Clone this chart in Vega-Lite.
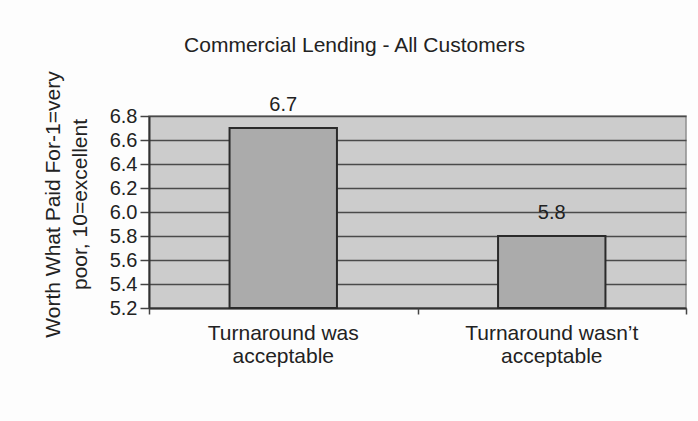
{
  "$schema": "https://vega.github.io/schema/vega-lite/v6.json",
  "width": 537,
  "height": 192,
  "autosize": {"type": "none"},
  "padding": {"left": 149, "top": 116, "right": 12, "bottom": 113},
  "background": "#fdfdfd",
  "config": {
    "font": "Liberation Sans",
    "view": {"fill": "#cccccc", "stroke": "#8f8f8f", "strokeWidth": 1.5}
  },
  "title": {
    "text": "Commercial Lending - All Customers",
    "fontSize": 21,
    "fontWeight": "normal",
    "color": "#222222",
    "anchor": "middle",
    "dx": -63,
    "baseline": "alphabetic",
    "offset": -2
  },
  "data": {
    "values": [
      {"category": "Turnaround was acceptable", "score": 6.7},
      {"category": "Turnaround wasn’t acceptable", "score": 5.8}
    ]
  },
  "encoding": {
    "y": {
      "field": "score",
      "type": "quantitative",
      "scale": {"domain": [5.2, 6.8], "nice": false, "zero": false},
      "axis": {
        "values": [5.2, 5.4, 5.6, 5.8, 6.0, 6.2, 6.4, 6.6, 6.8],
        "format": ".1f",
        "labelFontSize": 20,
        "labelColor": "#222222",
        "labelPadding": 3,
        "tickSize": 9,
        "tickColor": "#444444",
        "tickWidth": 1.5,
        "domainColor": "#333333",
        "domainWidth": 2,
        "gridColor": "#4a4a4a",
        "gridWidth": 1.5,
        "gridOpacity": 1,
        "title": ["Worth What Paid For-1=very", "poor, 10=excellent"],
        "titleFontSize": 21,
        "titleFontWeight": "normal",
        "titleColor": "#222222",
        "titleLineHeight": 27,
        "titleBaseline": "alphabetic",
        "titleAngle": -90,
        "titleAlign": "center",
        "titleX": -90,
        "titleY": 88
      }
    }
  },
  "resolve": {"axis": {"x": "independent"}},
  "layer": [
    {
      "mark": {
        "type": "bar",
        "width": {"band": 0.4},
        "fill": "#ababab",
        "stroke": "#2a2a2a",
        "strokeWidth": 2
      },
      "encoding": {
        "x": {
          "field": "category",
          "type": "nominal",
          "sort": null,
          "scale": {"paddingInner": 0, "paddingOuter": 0},
          "axis": {
            "orient": "bottom",
            "title": null,
            "labelAngle": 0,
            "labelFontSize": 21,
            "labelColor": "#222222",
            "labelLineHeight": 23,
            "labelPadding": 14,
            "labelExpr": "datum.value == 'Turnaround was acceptable' ? ['Turnaround was', 'acceptable'] : ['Turnaround wasn’t', 'acceptable']",
            "ticks": false,
            "domainColor": "#333333",
            "domainWidth": 2,
            "grid": false
          }
        },
        "y2": {"datum": 5.2}
      }
    },
    {
      "mark": {
        "type": "text",
        "fontSize": 20,
        "color": "#222222",
        "baseline": "alphabetic",
        "dy": -17
      },
      "encoding": {
        "x": {
          "field": "category",
          "type": "nominal",
          "sort": null,
          "axis": {
            "orient": "bottom",
            "title": null,
            "labels": false,
            "domain": false,
            "grid": false,
            "ticks": true,
            "tickBand": "extent",
            "tickSize": 6,
            "tickColor": "#444444",
            "tickWidth": 1.5,
            "offset": 0
          }
        },
        "text": {"field": "score", "type": "quantitative", "format": ".1f"}
      }
    }
  ]
}
